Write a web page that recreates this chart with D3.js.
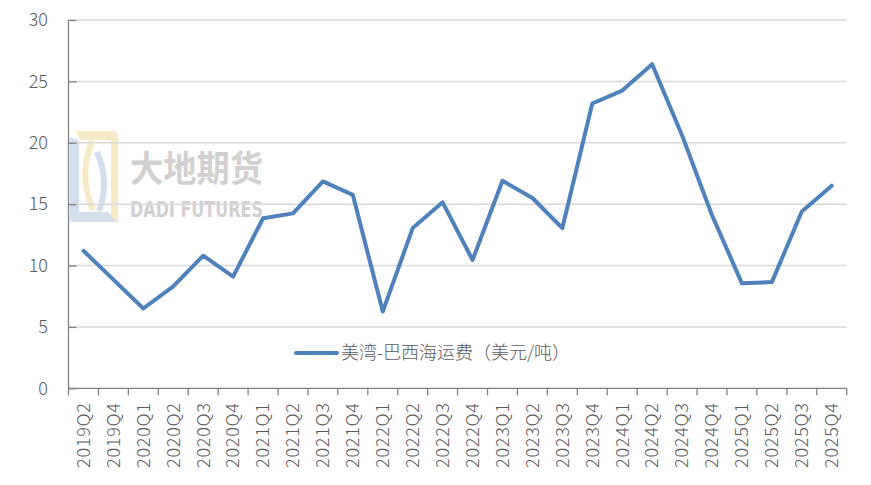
<!DOCTYPE html>
<html><head><meta charset="utf-8">
<script src="https://cdn.jsdelivr.net/npm/d3@7"></script>
<style>body{margin:0;background:#fff}svg{display:block;font-family:"Noto Sans CJK SC","Noto Sans",sans-serif}</style>
</head><body><svg id="c" width="871" height="485"></svg>
<script>
const categories = ["2019Q2","2019Q4","2020Q1","2020Q2","2020Q3","2020Q4","2021Q1","2021Q2","2021Q3","2021Q4","2022Q1","2022Q2","2022Q3","2022Q4","2023Q1","2023Q2","2023Q3","2023Q4","2024Q1","2024Q2","2024Q3","2024Q4","2025Q1","2025Q2","2025Q3","2025Q4"];
const values = [11.2,8.85,6.5,8.3,10.8,9.1,13.85,14.25,16.85,15.75,6.25,13.05,15.15,10.45,16.9,15.5,13.05,23.2,24.25,26.4,20.6,14.1,8.55,8.65,14.4,16.5];
const yTicks = [0,5,10,15,20,25,30];
const seriesName = "美湾-巴西海运费（美元/吨）";

const svg = d3.select("#c");
const L = 68.5, R = 846.7, T = 20, B = 388.3;
const x = d3.scaleBand().domain(categories).range([L, R]);
const y = d3.scaleLinear().domain([0, 30]).range([B, T]);

// watermark
const wm = svg.append("g").attr("opacity", 0.8);
wm.append("path").attr("d","M76,131 H113 Q118,131 118,136 V222 H111 V140 H80 Z").attr("fill","#f5e7b8");
wm.append("path").attr("d","M92,141 Q78,175 93,210").attr("fill","none").attr("stroke","#f5e7b8").attr("stroke-width",6);
wm.append("path").attr("d","M70,137 L79,141 V212 H108 L116,222 H73 Q70,222 70,219 Z").attr("fill","#c7d6e8");
wm.append("path").attr("d","M97,152 Q110,182 99,211").attr("fill","none").attr("stroke","#c7d6e8").attr("stroke-width",6);
wm.append("text").attr("x",130).attr("y",182).attr("font-size",36).attr("font-weight","bold").attr("fill","#c8c4c4")
  .attr("textLength",133).attr("lengthAdjust","spacingAndGlyphs").text("大地期货");
wm.append("text").attr("x",130).attr("y",217).attr("font-size",22).attr("font-weight","bold").attr("fill","#c8c4c4")
  .attr("font-family","'DejaVu Sans Condensed','Liberation Sans Narrow',sans-serif")
  .attr("textLength",133).attr("lengthAdjust","spacingAndGlyphs").text("DADI FUTURES");

// gridlines
svg.append("g").selectAll("line").data(yTicks.filter(d=>d>0)).join("line")
  .attr("x1", L).attr("x2", R).attr("y1", d=>y(d)).attr("y2", d=>y(d))
  .attr("stroke", "#d9d9d9").attr("stroke-width", 1.5);

// y axis
const ya = svg.append("g").attr("transform", `translate(${L},0)`)
  .call(d3.axisRight(y).tickValues(yTicks).tickSize(8).tickFormat(""));
ya.select(".domain").attr("stroke","#808080").attr("stroke-width",1.3).attr("d",`M0,${T}V${B}`);
ya.selectAll(".tick line").attr("stroke","#808080").attr("stroke-width",1.3);
svg.append("g").selectAll("text").data(yTicks).join("text")
  .attr("x", 48).attr("y", d=>y(d)).attr("dy","0.35em").attr("text-anchor","end")
  .attr("font-size",18).attr("font-weight",300).attr("fill","#595959").text(d=>d);

// x axis
const xa = svg.append("g").attr("transform", `translate(0,${B})`)
  .call(d3.axisBottom(x).tickSize(0).tickFormat(""));
xa.select(".domain").attr("stroke","#808080").attr("stroke-width",1.3).attr("d",`M${L},0H${R}`);
const bounds = categories.map(c=>x(c)).concat([R]);
svg.append("g").selectAll("line").data(bounds).join("line")
  .attr("x1", d=>d).attr("x2", d=>d).attr("y1", B).attr("y2", B+7)
  .attr("stroke","#808080").attr("stroke-width",1.3);
svg.append("g").selectAll("text").data(categories).join("text")
  .attr("transform", d=>`translate(${x(d)+x.bandwidth()/2},403) rotate(-90)`)
  .attr("text-anchor","end").attr("dy","0.35em")
  .attr("font-size",18).attr("font-weight",300).attr("textLength",65).attr("lengthAdjust","spacing")
  .attr("fill","#595959").text(d=>d);

// line
const line = d3.line().x((d,i)=>x(categories[i])+x.bandwidth()/2).y(d=>y(d));
svg.append("path").datum(values).attr("d", line).attr("fill","none")
  .attr("stroke","#4f81bd").attr("stroke-width",4).attr("stroke-linejoin","round").attr("stroke-linecap","round");

// legend
svg.append("line").attr("x1",296).attr("x2",337).attr("y1",353).attr("y2",353)
  .attr("stroke","#4f81bd").attr("stroke-width",4).attr("stroke-linecap","round");
svg.append("text").attr("x",341).attr("y",353).attr("dy","0.35em").attr("font-size",18).attr("font-weight",300)
  .attr("fill","#595959").text(seriesName);
</script></body></html>
